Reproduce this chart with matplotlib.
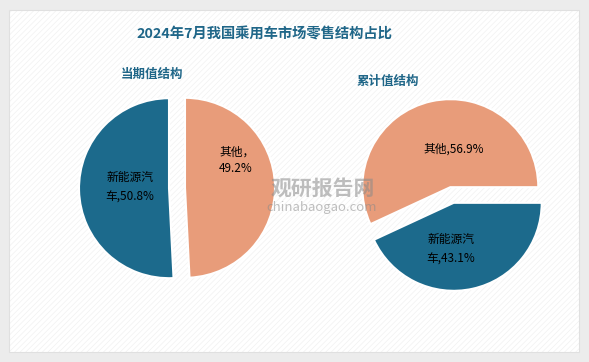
import matplotlib.pyplot as plt
from matplotlib.patches import Rectangle
import matplotlib.patheffects as pe

plt.rcParams['font.family'] = ['Noto Sans CJK SC', 'DejaVu Sans']
plt.rcParams['hatch.linewidth'] = 0.5
plt.rcParams['hatch.color'] = '#f1f1f1'

# 数据
类别 = ['其他', '新能源汽车']
当期值 = [49.2, 50.8]
累计值 = [56.9, 43.1]
颜色 = ['#e89c7a', '#1c6a8c']
标题色 = '#1f6688'

W, H = 589, 362
fig = plt.figure(figsize=(W / 100, H / 100), dpi=100, facecolor='#ececec')
ax = fig.add_axes([0, 0, 1, 1])

# 白色面板
ax.add_patch(Rectangle((9, 10), 570, 342, facecolor='white', edgecolor='#f1f1f1',
                       hatch='//////', linewidth=0, zorder=0))
ax.add_patch(Rectangle((9, 10), 570, 342, facecolor='none', edgecolor='#e0e0e0',
                       linewidth=0.8, zorder=0))

阴影 = [pe.SimplePatchShadow(offset=(0, 0), shadow_rgbFace='#999999', alpha=0.35), pe.Normal()]
wp = dict(edgecolor='white', linewidth=1.5, path_effects=阴影)

# 当期值结构
ax.pie(当期值, colors=颜色, startangle=90, counterclock=False,
       center=(177, H - 188), radius=90, explode=[8, 8],
       wedgeprops=wp, frame=True)
# 累计值结构
ax.pie(累计值, colors=颜色, startangle=0, counterclock=True,
       center=(452, H - 195), radius=88, explode=[8, 8],
       wedgeprops=wp, frame=True)
ax.set_xlim(0, W)
ax.set_ylim(0, H)
ax.set_aspect('equal')
ax.axis('off')

# 标题
ax.text(264, H - 35, '2024年7月我国乘用车市场零售结构占比', ha='center', va='center',
        fontsize=10.3, fontweight='bold', color=标题色)
ax.text(152, H - 74, '当期值结构', ha='center', va='center',
        fontsize=9, fontweight='bold', color=标题色)
ax.text(388, H - 81, '累计值结构', ha='center', va='center',
        fontsize=9, fontweight='bold', color=标题色)

# 数据标签
fs = 8.5
ax.text(130, H - 187, '新能源汽\n车,%.1f%%' % 当期值[1], ha='center', va='center',
        fontsize=fs, linespacing=1.7)
ax.text(219, H - 160, '其他，\n%.1f%%' % 当期值[0], ha='left', va='center',
        fontsize=fs, linespacing=1.3)
ax.text(454, H - 149, '其他,%.1f%%' % 累计值[0], ha='center', va='center', fontsize=fs)
ax.text(451, H - 249, '新能源汽\n车,%.1f%%' % 累计值[1], ha='center', va='center',
        fontsize=fs, linespacing=1.7)

# 水印
ax.text(323, H - 188, '观研报告网', ha='center', va='center', fontsize=15,
        fontweight='bold', color='#8a8a8a', alpha=0.55)
ax.text(322, H - 207, 'chinabaogao.com', ha='center', va='center', fontsize=9.5,
        color='#8a8a8a', alpha=0.55)

fig.savefig('out.png', dpi=100, facecolor=fig.get_facecolor())
